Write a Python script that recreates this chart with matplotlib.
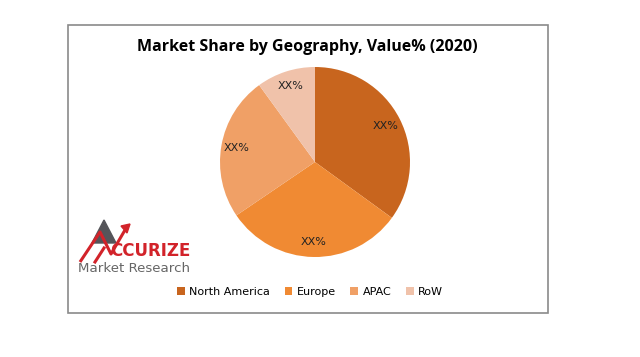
import matplotlib.pyplot as plt
from matplotlib.patches import Rectangle, Polygon

# data
regions = ['North America', 'Europe', 'APAC', 'RoW']
shares = [35, 30.5, 24.5, 10]
colors = ['#C8651E', '#F08A33', '#F0A066', '#F0C2AA']
title = 'Market Share by Geography, Value% (2020)'

W, H = 640, 357
fig = plt.figure(figsize=(W / 100, H / 100), dpi=100)

# overlay in pixel coordinates for frame and logo
bg = fig.add_axes([0, 0, 1, 1])
bg.set_xlim(0, W)
bg.set_ylim(H, 0)
bg.axis('off')
bg.add_patch(Rectangle((68, 25), 480, 288, fill=False, edgecolor='#8a8a8a', lw=1.2))

# logo
bg.add_patch(Polygon([(104, 220), (92, 243), (116, 243)], closed=True, color='#55555a'))
bg.plot([80, 100, 111, 125], [262, 232, 254, 230], color='#d2232a', lw=2.2, solid_capstyle='butt')
bg.plot([95, 104], [262, 248], color='#d2232a', lw=2.2)
bg.add_patch(Polygon([(130, 224), (121, 226), (127, 233)], closed=True, color='#d2232a'))
bg.text(110, 251, 'CCURIZE', color='#d2232a', fontsize=12, fontweight='bold',
        family='Liberation Sans Narrow', va='center', ha='left')
bg.text(78, 269, 'Market Research', color='#666666', fontsize=9.6,
        family='DejaVu Sans', va='center', ha='left')

# title
fig.text(307 / W, 1 - 47 / H, title, ha='center', va='center',
         fontsize=11.5, fontweight='bold', family='Open Sans')

# pie
ax = fig.add_axes([220 / W, 100 / H, 190 / W, 190 / H])
wedges, texts, autotexts = ax.pie(shares, colors=colors, startangle=90, counterclock=False,
                                  autopct=lambda p: 'XX%', pctdistance=0.84, radius=1,
                                  textprops={'fontsize': 8, 'color': '#222222', 'family': 'DejaVu Sans'})
ax.set_xlim(-1, 1)
ax.set_ylim(-1, 1)
ax.set_aspect('equal')

# legend
leg = fig.legend(wedges, regions, loc='center', bbox_to_anchor=(310 / W, 1 - 292 / H), ncol=4,
                 frameon=False, fontsize=8, handlelength=0.7, handleheight=0.7,
                 handletextpad=0.4, columnspacing=1.3)

fig.savefig('out.png', dpi=100)
